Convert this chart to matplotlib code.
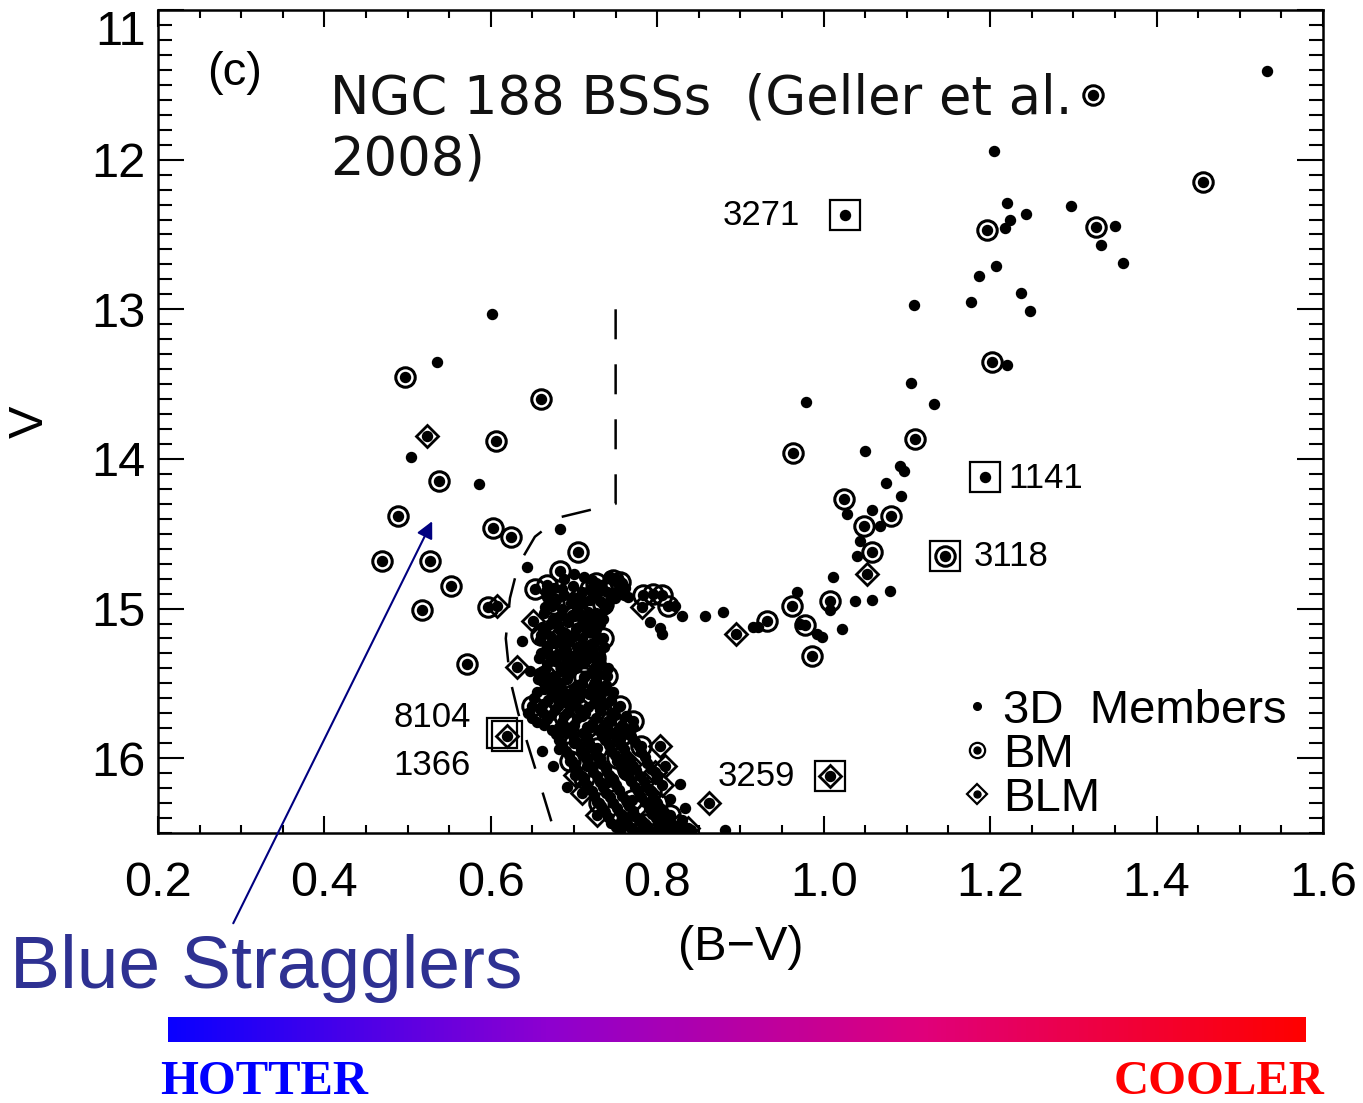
import matplotlib.pyplot as plt
import numpy as np
from matplotlib.colors import LinearSegmentedColormap
from matplotlib.lines import Line2D
from matplotlib.ticker import MultipleLocator

plt.rcParams['font.family'] = ['Liberation Sans', 'DejaVu Sans']

# (B-V, V) pairs
bss_dots = [(0.601, 13.03), (0.535, 13.35), (0.504, 13.99), (0.586, 14.17),
            (0.683, 14.47), (0.644, 14.72), (0.638, 15.22), (0.647, 15.42),
            (0.662, 15.95), (0.675, 16.05), (0.682, 15.94), (0.692, 16.19)]

giant_dots = [(1.533, 11.41), (1.205, 11.94), (1.220, 12.29), (1.224, 12.40),
              (1.218, 12.46), (1.243, 12.36), (1.297, 12.31), (1.350, 12.44),
              (1.333, 12.57), (1.360, 12.69), (1.207, 12.71), (1.187, 12.78),
              (1.237, 12.89), (1.177, 12.95), (1.248, 13.01), (1.108, 12.97),
              (1.220, 13.37), (1.105, 13.49), (1.133, 13.63), (0.979, 13.62),
              (1.050, 13.95), (1.092, 14.05), (1.097, 14.08), (1.075, 14.16),
              (1.093, 14.25), (1.028, 14.37), (1.058, 14.34), (1.068, 14.45),
              (1.044, 14.55), (1.040, 14.65), (1.026, 12.37), (1.194, 14.12)]

subgiant_dots = [(0.765, 14.92), (0.821, 14.98), (0.830, 15.05), (0.791, 15.09),
                 (0.803, 15.13), (0.806, 15.17), (0.857, 15.05), (0.879, 15.02),
                 (0.915, 15.12), (0.921, 15.12), (0.968, 14.89), (0.972, 15.10),
                 (0.992, 15.17), (0.998, 15.19), (1.008, 15.01), (1.011, 14.79),
                 (1.022, 15.14), (1.038, 14.95), (1.058, 14.94), (1.080, 14.88),
                 (0.827, 16.17), (0.833, 16.33), (0.881, 16.48)]

ms_dots = [(0.688, 14.80), (0.712, 14.79), (0.733, 14.84), (0.752, 14.80), (0.761, 14.86),
           (0.676, 14.86), (0.699, 14.85), (0.721, 14.89), (0.744, 14.91),
           (0.667, 14.92), (0.688, 14.91), (0.708, 14.97), (0.731, 14.95), (0.749, 14.93),
           (0.674, 14.98), (0.696, 14.96), (0.717, 15.02), (0.737, 15.00),
           (0.664, 15.03), (0.683, 15.05), (0.703, 15.01), (0.724, 15.06),
           (0.671, 15.10), (0.693, 15.09), (0.712, 15.12), (0.731, 15.10),
           (0.665, 15.16), (0.682, 15.14), (0.700, 15.18), (0.719, 15.16),
           (0.659, 15.21), (0.676, 15.23), (0.694, 15.22), (0.713, 15.25), (0.728, 15.21),
           (0.668, 15.28), (0.687, 15.29), (0.705, 15.31), (0.722, 15.28),
           (0.658, 15.33), (0.677, 15.35), (0.696, 15.36), (0.716, 15.34), (0.733, 15.37),
           (0.665, 15.41), (0.684, 15.42), (0.702, 15.40), (0.721, 15.43),
           (0.657, 15.47), (0.673, 15.49), (0.691, 15.47), (0.710, 15.50), (0.727, 15.48),
           (0.664, 15.54), (0.682, 15.55), (0.700, 15.53), (0.718, 15.57), (0.736, 15.55),
           (0.652, 15.60), (0.669, 15.61), (0.688, 15.62), (0.706, 15.60), (0.724, 15.63), (0.744, 15.61),
           (0.659, 15.67), (0.677, 15.68), (0.695, 15.66), (0.713, 15.70), (0.731, 15.68), (0.749, 15.71),
           (0.650, 15.73), (0.667, 15.74), (0.686, 15.76), (0.704, 15.73), (0.722, 15.77), (0.741, 15.75),
           (0.758, 15.78), (0.674, 15.81), (0.692, 15.80), (0.711, 15.83), (0.729, 15.81), (0.747, 15.84),
           (0.764, 15.82), (0.682, 15.88), (0.700, 15.87), (0.718, 15.90), (0.737, 15.88), (0.756, 15.91),
           (0.773, 15.89), (0.690, 15.95), (0.708, 15.94), (0.727, 15.97), (0.745, 15.95), (0.763, 15.98),
           (0.781, 15.96), (0.697, 16.02), (0.716, 16.01), (0.734, 16.04), (0.752, 16.02), (0.771, 16.05),
           (0.788, 16.03), (0.704, 16.08), (0.723, 16.09), (0.742, 16.11), (0.760, 16.09), (0.779, 16.12),
           (0.712, 16.15), (0.731, 16.16), (0.750, 16.18), (0.768, 16.15), (0.787, 16.19),
           (0.721, 16.22), (0.739, 16.23), (0.758, 16.25), (0.777, 16.22), (0.795, 16.26),
           (0.728, 16.29), (0.747, 16.30), (0.766, 16.32), (0.785, 16.29), (0.803, 16.33),
           (0.737, 16.36), (0.756, 16.37), (0.775, 16.39), (0.794, 16.36), (0.812, 16.40),
           (0.745, 16.43), (0.764, 16.44), (0.783, 16.46), (0.802, 16.43), (0.820, 16.47),
           (0.755, 16.49), (0.773, 16.50), (0.792, 16.49), (0.811, 16.50), (0.830, 16.49)]

ms_dots_fill = [(0.700, 14.77), (0.722, 14.81), (0.742, 14.78), (0.758, 14.83),
                (0.666, 14.88), (0.686, 14.87), (0.710, 14.89), (0.732, 14.87), (0.753, 14.88),
                (0.678, 14.94), (0.699, 14.92), (0.719, 14.94), (0.740, 14.96), (0.760, 14.91),
                (0.665, 14.99), (0.686, 15.00), (0.706, 15.05), (0.727, 15.03),
                (0.675, 15.07), (0.694, 15.06), (0.714, 15.08), (0.735, 15.07),
                (0.662, 15.12), (0.681, 15.11), (0.702, 15.14), (0.722, 15.13),
                (0.672, 15.19), (0.690, 15.17), (0.709, 15.20), (0.727, 15.18),
                (0.667, 15.25), (0.685, 15.24), (0.703, 15.26), (0.720, 15.24), (0.736, 15.26),
                (0.660, 15.30), (0.678, 15.31), (0.697, 15.32), (0.714, 15.30), (0.731, 15.31),
                (0.667, 15.37), (0.687, 15.38), (0.706, 15.37), (0.725, 15.39), (0.741, 15.40),
                (0.658, 15.43), (0.676, 15.45), (0.694, 15.44), (0.713, 15.45), (0.731, 15.44),
                (0.666, 15.51), (0.684, 15.50), (0.703, 15.51), (0.721, 15.53), (0.739, 15.51),
                (0.655, 15.56), (0.673, 15.58), (0.691, 15.57), (0.709, 15.56), (0.728, 15.58),
                (0.747, 15.56), (0.663, 15.64), (0.681, 15.65), (0.699, 15.63), (0.717, 15.66),
                (0.737, 15.64), (0.753, 15.66), (0.645, 15.70), (0.655, 15.76), (0.672, 15.71),
                (0.691, 15.70), (0.709, 15.72), (0.727, 15.73), (0.745, 15.70), (0.762, 15.72),
                (0.664, 15.78), (0.682, 15.79), (0.700, 15.78), (0.718, 15.80), (0.736, 15.78),
                (0.754, 15.80), (0.771, 15.79), (0.678, 15.84), (0.697, 15.83), (0.715, 15.86),
                (0.734, 15.85), (0.752, 15.87), (0.769, 15.85), (0.686, 15.91), (0.705, 15.90),
                (0.723, 15.93), (0.742, 15.91), (0.760, 15.94), (0.778, 15.92), (0.694, 15.98),
                (0.712, 15.97), (0.731, 16.00), (0.749, 15.98), (0.767, 16.01), (0.785, 15.99),
                (0.700, 16.05), (0.720, 16.05), (0.738, 16.07), (0.757, 16.06), (0.775, 16.08),
                (0.792, 16.07), (0.709, 16.12), (0.728, 16.12), (0.747, 16.14), (0.765, 16.12),
                (0.784, 16.15), (0.800, 16.13), (0.716, 16.18), (0.735, 16.19), (0.754, 16.21),
                (0.773, 16.19), (0.791, 16.22), (0.724, 16.25), (0.743, 16.26), (0.762, 16.28),
                (0.781, 16.26), (0.799, 16.29), (0.815, 16.27), (0.733, 16.32), (0.752, 16.33),
                (0.771, 16.35), (0.790, 16.33), (0.808, 16.36), (0.741, 16.39), (0.760, 16.40),
                (0.779, 16.42), (0.798, 16.40), (0.816, 16.43), (0.830, 16.41), (0.750, 16.46),
                (0.769, 16.47), (0.788, 16.48), (0.806, 16.46), (0.824, 16.45), (0.840, 16.48)]

# binary members (BM)
bm_stars = [(0.497, 13.45), (0.660, 13.60), (0.606, 13.88), (0.538, 14.15), (0.488, 14.38),
            (0.603, 14.46), (0.624, 14.52), (0.705, 14.62), (0.469, 14.68), (0.527, 14.68),
            (0.552, 14.85), (0.517, 15.01), (0.571, 15.37), (0.597, 14.99), (0.653, 14.87),
            (0.683, 14.75),
            (1.324, 11.57), (1.456, 12.15), (1.196, 12.47), (1.327, 12.45), (1.202, 13.35),
            (1.110, 13.87), (0.963, 13.96), (1.025, 14.27), (1.081, 14.38), (1.049, 14.45),
            (1.058, 14.62), (1.146, 14.65),
            (0.783, 14.91), (0.795, 14.90), (0.806, 14.91), (0.813, 14.98), (0.932, 15.08),
            (0.962, 14.98), (0.978, 15.11), (0.986, 15.32), (1.008, 14.95),
            (0.747, 14.81), (0.755, 14.82), (0.726, 14.83), (0.719, 14.87), (0.740, 14.89),
            (0.707, 14.93), (0.676, 14.97), (0.698, 15.04), (0.720, 15.12), (0.684, 15.19),
            (0.706, 15.27), (0.670, 15.31), (0.725, 15.33), (0.690, 15.39), (0.740, 15.45),
            (0.712, 15.46), (0.676, 15.52), (0.698, 15.58), (0.755, 15.65), (0.733, 15.61),
            (0.663, 15.70), (0.688, 15.72), (0.771, 15.75), (0.716, 15.79), (0.742, 15.82),
            (0.700, 15.90), (0.728, 15.93), (0.780, 15.92), (0.752, 16.00), (0.716, 16.05),
            (0.741, 16.16), (0.770, 16.28), (0.793, 16.22), (0.757, 16.42), (0.785, 16.44),
            (0.815, 16.38), (0.668, 14.84), (0.735, 14.97), (0.660, 15.18), (0.735, 15.20),
            (0.665, 15.45), (0.730, 15.52), (0.650, 15.65), (0.706, 15.67), (0.760, 15.84),
            (0.690, 15.83), (0.765, 16.08), (0.730, 16.30), (0.800, 16.30), (0.770, 16.47),
            (0.815, 16.48), (0.700, 15.05), (0.690, 15.28), (0.712, 15.36), (0.680, 15.60),
            (0.745, 15.75), (0.712, 16.13), (0.695, 16.02)]

# binary likely members (BLM)
blm_stars = [(0.523, 13.85), (0.607, 14.98), (0.651, 15.08), (0.632, 15.39), (0.619, 15.85),
             (0.782, 14.99), (0.895, 15.17), (1.052, 14.77), (1.008, 16.12), (0.755, 15.87),
             (0.803, 15.92), (0.767, 16.04), (0.809, 16.05), (0.797, 16.09), (0.701, 16.11),
             (0.710, 16.23), (0.806, 16.18), (0.862, 16.30), (0.728, 16.38), (0.794, 16.37),
             (0.825, 16.45), (0.837, 16.47), (0.803, 16.47)]

# boxed, labelled stars
boxed_ids = ['3271', '1141', '3118', '8104', '1366', '3259']
boxed_bv = [1.026, 1.194, 1.146, 0.619, 0.614, 1.008]
boxed_v = [12.37, 14.12, 14.65, 15.85, 15.83, 16.12]
label_bv = [0.972, 1.222, 1.180, 0.529, 0.529, 0.919]
label_v = [12.37, 14.13, 14.65, 15.73, 16.05, 16.12]
label_ha = ['right', 'left', 'left', 'center', 'center', 'center']

# BSS selection boundary (dashed)
cut_bv = [0.750, 0.750, 0.683, 0.653, 0.633, 0.623, 0.618, 0.623, 0.633, 0.644, 0.659, 0.677]
cut_v = [13.00, 14.30, 14.39, 14.52, 14.71, 14.93, 15.20, 15.47, 15.70, 15.90, 16.17, 16.50]


def unzip(pairs):
    return [p[0] for p in pairs], [p[1] for p in pairs]


fig = plt.figure(figsize=(13.63, 11.03), dpi=100)
ax = fig.add_axes([0.1159, 0.2448, 0.8547, 0.7461])

bm_x, bm_y = unzip(bm_stars)
blm_x, blm_y = unzip(blm_stars)
ax.plot(bm_x, bm_y, 'o', ms=14, mfc='none', mec='black', mew=2.2, ls='none')
ax.plot(blm_x, blm_y, 'D', ms=11, mfc='none', mec='black', mew=2.0, ls='none')
all_dots = bss_dots + giant_dots + subgiant_dots + ms_dots + ms_dots_fill + bm_stars + blm_stars
dx, dy = unzip(all_dots)
ax.plot(dx, dy, 'o', ms=7.2, color='black', ls='none')
ax.plot(boxed_bv, boxed_v, 's', ms=21, mfc='none', mec='black', mew=1.6, ls='none')

for lab, x, y, ha in zip(boxed_ids, label_bv, label_v, label_ha):
    ax.text(x, y, lab, ha=ha, va='center', fontsize=25)

ax.plot(cut_bv, cut_v, color='black', lw=1.8, dashes=(12, 10))

ax.set_xlim(0.2, 1.6)
ax.set_ylim(16.5, 11.0)
ax.xaxis.set_major_locator(MultipleLocator(0.2))
ax.xaxis.set_minor_locator(MultipleLocator(0.05))
ax.yaxis.set_major_locator(MultipleLocator(1))
ax.yaxis.set_minor_locator(MultipleLocator(0.1))
ax.tick_params(axis='both', which='both', direction='in', top=True, right=True, width=1.5)
ax.tick_params(axis='x', which='major', length=12, pad=20, labelsize=35)
ax.tick_params(axis='x', which='minor', length=6)
ax.tick_params(axis='y', which='major', length=19, pad=9, labelsize=35)
ax.tick_params(axis='y', which='minor', length=10)
for s in ax.spines.values():
    s.set_linewidth(1.8)

ax.set_xlabel('(B\u2212V)', fontsize=35)
ax.xaxis.set_label_coords(0.5, -0.112)
ax.set_ylabel('V', fontsize=35)
ax.yaxis.set_label_coords(-0.09, 0.5)

ax.text(0.066, 0.9235, '(c)', transform=ax.transAxes, fontsize=34, ha='center', va='center')
ax.text(0.1476, 0.9235, 'NGC 188 BSSs  (Geller et al.\n2008)', transform=ax.transAxes,
        fontsize=38, family='DejaVu Sans', color='#111111', ha='left', va='top')

handles = [Line2D([], [], marker='o', ms=5.5, color='black', ls='none'),
           (Line2D([], [], marker='o', ms=11, mfc='white', mec='black', mew=1.6, ls='none'),
            Line2D([], [], marker='o', ms=5, color='black', ls='none')),
           (Line2D([], [], marker='D', ms=10, mfc='white', mec='black', mew=1.6, ls='none'),
            Line2D([], [], marker='o', ms=5, color='black', ls='none'))]
ax.legend(handles, ['3D  Members', 'BM', 'BLM'], loc='upper left', bbox_to_anchor=(0.691, 0.175),
          frameon=False, fontsize=34, handlelength=0.6, handletextpad=0.25, labelspacing=0.0,
          borderpad=0, borderaxespad=0)

ax.annotate('', xy=(0.531, 14.40), xytext=(0.289, 17.12),
            arrowprops=dict(arrowstyle='-|>', color='#000080', lw=1.5, mutation_scale=25),
            annotation_clip=False)
fig.text(0.0073, 0.1043, 'Blue Stragglers', fontsize=54, color='#2e3192', ha='left', va='baseline')

cmap = LinearSegmentedColormap.from_list('temp', ['#0a00ff', '#8e00d0', '#e0007a', '#ff0000'])
cax = fig.add_axes([0.1233, 0.0553, 0.8342, 0.0227])
cax.imshow(np.linspace(0, 1, 256)[None, :], aspect='auto', cmap=cmap)
cax.axis('off')

fig.text(0.1174, 0.008, 'HOTTER', fontsize=35, color='#0000ff', weight='bold',
         family='Liberation Serif', ha='left', va='baseline')
fig.text(0.9721, 0.008, 'COOLER', fontsize=35, color='#ff0000', weight='bold',
         family='Liberation Serif', ha='right', va='baseline')

# the top "11" label sits just below the top spine, as in the original
fig.canvas.draw()
for lbl in ax.get_yticklabels():
    if lbl.get_text() == '11':
        lbl.set_verticalalignment('top')

fig.savefig('out.png', dpi=100)
